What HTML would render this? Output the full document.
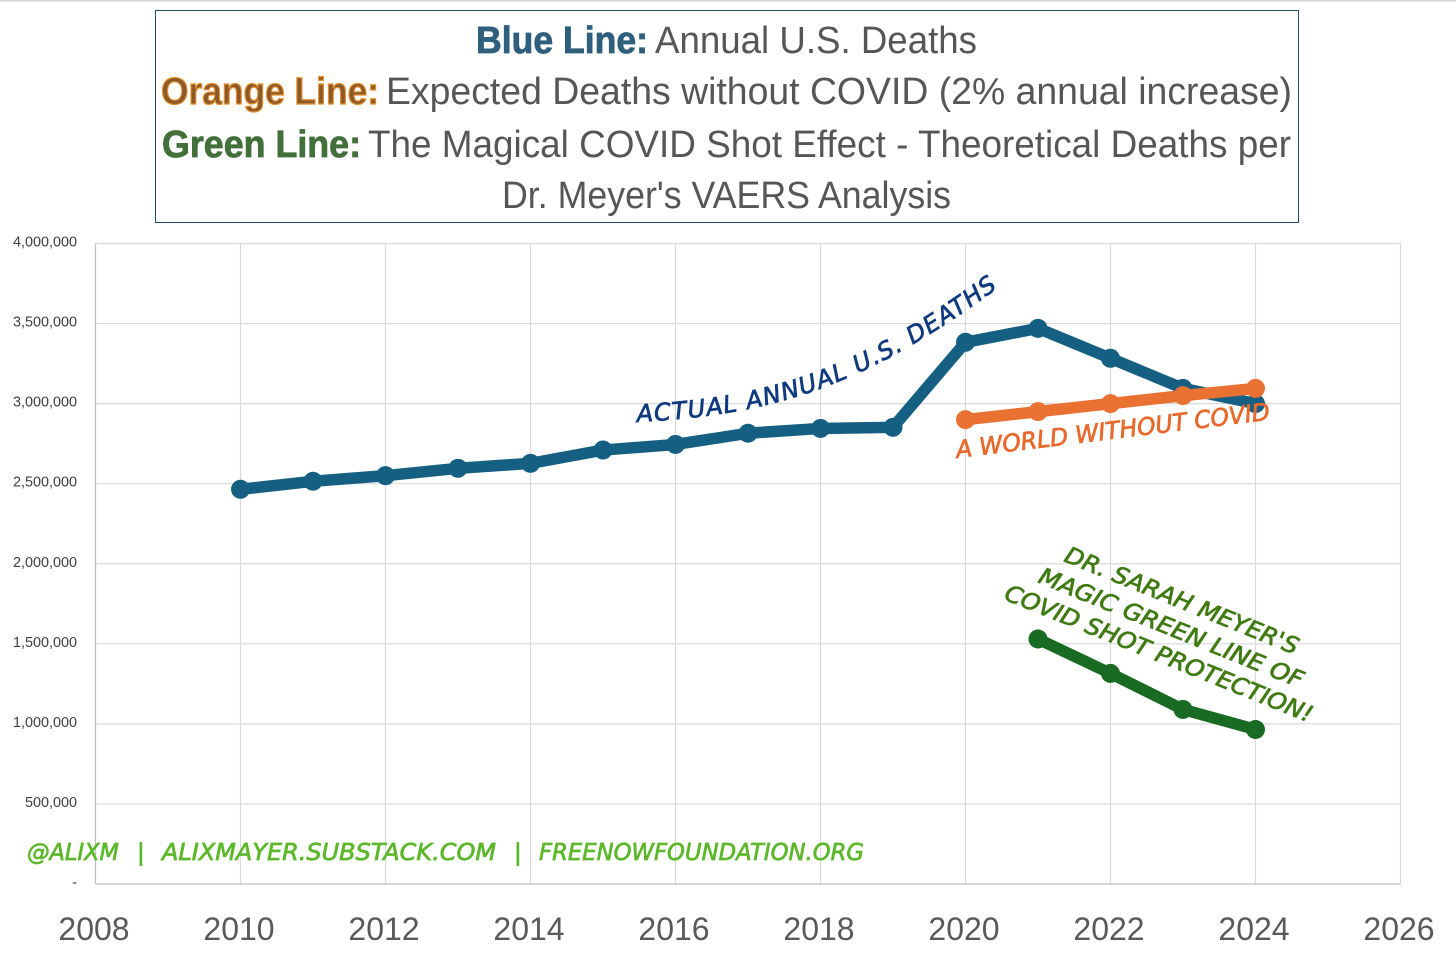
<!DOCTYPE html>
<html>
<head>
<meta charset="utf-8">
<title>Annual U.S. Deaths chart</title>
<style>
html,body{margin:0;padding:0;background:#fff;}
svg{display:block;}
.hd{font-family:"Liberation Sans Narrow","Liberation Sans",sans-serif;font-size:38px;fill:#565656;}
.hb{font-family:"Liberation Sans Narrow","Liberation Sans",sans-serif;font-size:38px;font-weight:bold;}
.cm{font-family:"DejaVu Sans",sans-serif;font-style:oblique;stroke-width:0.7px;}
</style>
</head>
<body>
<svg id="chart" xmlns="http://www.w3.org/2000/svg" width="1456" height="962" viewBox="0 0 1456 962">
  <rect x="0" y="0" width="1456" height="962" fill="#ffffff"/>
  <rect x="0" y="0" width="1456" height="1.5" fill="#d5d8d5"/>

  <g id="plot"></g>

  <g>
    <rect x="155.5" y="10.5" width="1143" height="212" fill="#ffffff" stroke="#1f4e63" stroke-width="1"/>
    <text class="hb" x="476" y="53" textLength="172" lengthAdjust="spacingAndGlyphs" fill="#2f5f7c" stroke="#2f5f7c" stroke-width="0.8">Blue Line:</text>
    <text class="hd" x="655" y="53" textLength="322" lengthAdjust="spacingAndGlyphs">Annual U.S. Deaths</text>
    <text class="hb" x="161" y="104" textLength="218" lengthAdjust="spacingAndGlyphs" fill="#8a5a2c" stroke="#e8912d" stroke-width="1.2">Orange Line:</text>
    <text class="hd" x="386" y="104" textLength="906" lengthAdjust="spacingAndGlyphs">Expected Deaths without COVID (2% annual increase)</text>
    <text class="hb" x="162" y="157" textLength="199" lengthAdjust="spacingAndGlyphs" fill="#43703a" stroke="#43703a" stroke-width="0.8">Green Line:</text>
    <text class="hd" x="368" y="157" textLength="923" lengthAdjust="spacingAndGlyphs">The Magical COVID Shot Effect - Theoretical Deaths per</text>
    <text class="hd" x="502" y="208" textLength="449" lengthAdjust="spacingAndGlyphs">Dr. Meyer's VAERS Analysis</text>
  </g>

  <g>
    <path id="blue-curve" d="M637 422 C770 415 860 390 1002 285" fill="none" stroke="none"/>
    <text class="cm" font-size="24" fill="#0f3a7d" stroke="#0f3a7d"><textPath href="#blue-curve" textLength="392" lengthAdjust="spacing">ACTUAL ANNUAL U.S. DEATHS</textPath></text>

    <text class="cm" font-size="24" fill="#e8692c" stroke="#e8692c" transform="translate(957 458) rotate(-7)" textLength="316" lengthAdjust="spacingAndGlyphs">A WORLD WITHOUT COVID</text>

    <text class="cm" font-size="23" fill="#3f7a12" stroke="#3f7a12" transform="translate(1063 561) rotate(22)" textLength="250" lengthAdjust="spacingAndGlyphs">DR. SARAH MEYER'S</text>
    <text class="cm" font-size="23" fill="#3f7a12" stroke="#3f7a12" transform="translate(1037 582) rotate(22)" textLength="283" lengthAdjust="spacingAndGlyphs">MAGIC GREEN LINE OF</text>
    <text class="cm" font-size="23" fill="#3f7a12" stroke="#3f7a12" transform="translate(1003 599) rotate(22)" textLength="330" lengthAdjust="spacingAndGlyphs">COVID SHOT PROTECTION!</text>

    <g class="cm" font-size="23" fill="#5cb82a" stroke="#5cb82a">
      <text x="27" y="860" textLength="92" lengthAdjust="spacingAndGlyphs">@ALIXM</text>
      <text x="137" y="860">|</text>
      <text x="162" y="860" textLength="334" lengthAdjust="spacingAndGlyphs">ALIXMAYER.SUBSTACK.COM</text>
      <text x="514" y="860">|</text>
      <text x="539" y="860" textLength="325" lengthAdjust="spacingAndGlyphs">FREENOWFOUNDATION.ORG</text>
    </g>
  </g>
</svg>
<script>
var years = [2010,2011,2012,2013,2014,2015,2016,2017,2018,2019,2020,2021,2022,2023,2024];
var actualDeaths = [2465000,2515000,2550000,2596000,2627000,2710000,2745000,2815000,2845000,2852000,3383000,3470000,3283000,3095000,3000000];
var expectedYears = [2020,2021,2022,2023,2024];
var expectedDeaths = [2900000,2950000,3000000,3050000,3095000];
var magicYears = [2021,2022,2023,2024];
var magicDeaths = [1530000,1315000,1090000,965000];
var yTicks = [0,500000,1000000,1500000,2000000,2500000,3000000,3500000,4000000];
var yTickLabels = ["-","500,000","1,000,000","1,500,000","2,000,000","2,500,000","3,000,000","3,500,000","4,000,000"];
var xTicks = [2008,2010,2012,2014,2016,2018,2020,2022,2024,2026];

var NS = "http://www.w3.org/2000/svg";
var plot = document.getElementById("plot");
var L = 95.5, R = 1400.5, T = 243.5, B = 884;
function xScale(v){ return L + (v - 2008) / 18 * (R - L); }
function yScale(v){ return B - v / 4000000 * (B - T); }
function make(tag, attrs, parent){
  var el = document.createElementNS(NS, tag);
  for (var k in attrs) el.setAttribute(k, attrs[k]);
  (parent || plot).appendChild(el);
  return el;
}

yTicks.forEach(function(v, i){
  if (v > 0) {
    var gl = make("line", {x1:L, x2:R, y1:yScale(v), y2:yScale(v), stroke:"#d9d9d9", "stroke-width":1.2});
    
    
  }
  var t = make("text", {x:77, y:yScale(v)+3, "text-anchor":"end", "font-family":'"Liberation Sans",sans-serif', "font-size":14.4, fill:"#404040"});
  t.textContent = yTickLabels[i];
  
  
});

xTicks.forEach(function(v){
  if (v > 2008) {
    var gl = make("line", {x1:xScale(v), x2:xScale(v), y1:T, y2:B, stroke:"#d9d9d9", "stroke-width":1.2});
    
    
  }
  var t = make("text", {x:xScale(v)-1.5, y:940, "text-anchor":"middle", "font-family":'"Liberation Sans",sans-serif', "font-size":32, fill:"#595959"});
  t.textContent = v;
  
  
});

var yAxis = make("line", {x1:L, x2:L, y1:T, y2:B, stroke:"#bfbfbf", "stroke-width":1.3});


var xAxis = make("line", {x1:L, x2:R, y1:B, y2:B, stroke:"#bfbfbf", "stroke-width":1.3});



function drawSeries(xs, ys, color, name){
  var g = make("g", {});
  
  
  var pts = xs.map(function(x, i){ return xScale(x) + "," + yScale(ys[i]); }).join(" ");
  var line = make("polyline", {points:pts, fill:"none", stroke:color, "stroke-width":11.5, "stroke-linejoin":"round"}, g);
  
  
  xs.forEach(function(x, i){
    var c = make("circle", {cx:xScale(x), cy:yScale(ys[i]), r:9.5, fill:color}, g);
    
    
  });
}
drawSeries(years, actualDeaths, "#156082", "actual-deaths");
drawSeries(expectedYears, expectedDeaths, "#E97132", "expected-deaths");
drawSeries(magicYears, magicDeaths, "#196B24", "magic-green");
</script>
</body>
</html>
